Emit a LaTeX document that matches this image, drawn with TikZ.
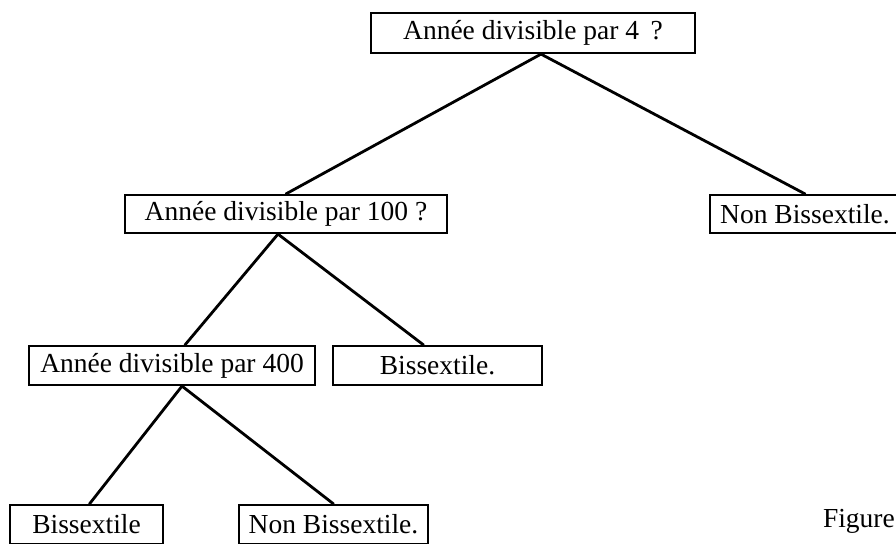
\documentclass[tikz,border=0pt]{standalone}
\usepackage{fontspec}
\setmainfont{Liberation Serif}
\begin{document}
\begin{tikzpicture}[x=1pt,y=-1pt,
  box/.style={draw, line width=2.2pt, rectangle, inner sep=0pt, font=\fontsize{27.5}{31}\selectfont},
  link/.style={line width=2.8pt, line cap=round}]
\useasboundingbox (0,0) rectangle (896,543);
\node[box, minimum width=324, minimum height=40] (q4) at (533,33) {Année divisible par 4 \,?};
\node[box, minimum width=322, minimum height=38] (q100) at (286,214) {Année divisible par 100 ?};
\node[box, minimum width=190, minimum height=38] (nb1) at (805,214) {Non Bissextile.};
\node[box, minimum width=286, minimum height=39] (q400) at (172,365.5) {Année divisible par 400};
\node[box, minimum width=209, minimum height=39] (b1) at (437.5,365.5) {Bissextile.};
\node[box, minimum width=153, minimum height=39] (b2) at (86.5,524.5) {Bissextile};
\node[box, minimum width=189, minimum height=39] (nb2) at (333.5,524.5) {Non Bissextile.};
\node[anchor=base east, inner sep=0pt, font=\fontsize{27.5}{31}\selectfont] (fig) at (895,527) {Figure};
\draw[link] ([xshift=8pt]q4.south) -- (q100.north);
\draw[link] ([xshift=8pt]q4.south) -- (nb1.north);
\draw[link] ([xshift=-8pt]q100.south) -- ([xshift=13pt]q400.north);
\draw[link] ([xshift=-8pt]q100.south) -- ([xshift=-14pt]b1.north);
\draw[link] ([xshift=10pt]q400.south) -- ([xshift=3pt]b2.north);
\draw[link] ([xshift=10pt]q400.south) -- (nb2.north);
\end{tikzpicture}
\end{document}
